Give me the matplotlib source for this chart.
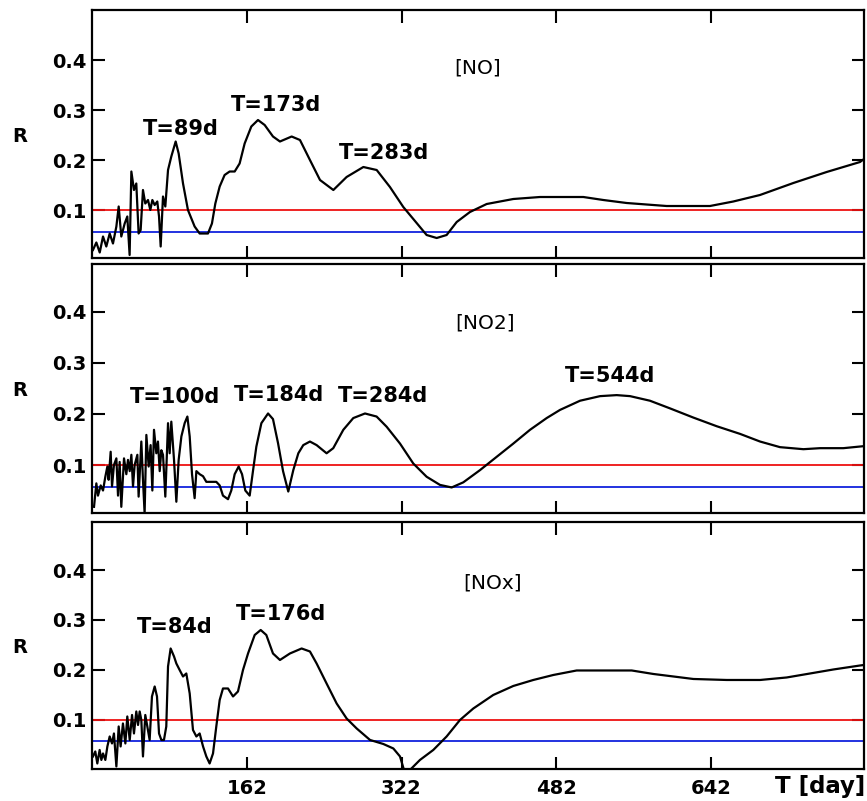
import matplotlib.pyplot as plt

plt.rcParams['font.family'] = 'DejaVu Sans'

# periodogram amplitude R against period T (days)
no_T = [3, 6.5, 10, 13.4, 16.8, 20.3, 23.7, 27.2, 29.6, 32.3, 35.8, 38.5, 40.9, 42.7, 45.4,
        47.8, 50.2, 52.3, 54.7, 57.1, 59.9, 62.3, 64.4, 66.8, 69.5, 71.3, 73, 75.4, 77.8, 80.6,
        84, 88.5, 91.6, 96.1, 101.2, 108.1, 113.3, 121.9, 126, 129.5, 134, 139.1, 144.3, 149.5,
        154.6, 159.8, 166.7, 173.6, 180.5, 189.1, 196.3, 208.4, 217, 227.3, 237.7, 251.5, 265.2,
        282.5, 296.3, 310, 323.8, 337.6, 347.9, 358.3, 368.6, 379, 392.7, 410, 437.5, 465.1,
        485.8, 509.9, 530.6, 554.7, 596, 640.8, 664.9, 692.5, 727, 761.4, 795.9, 800]
no_R = [0.02, 0.035, 0.015, 0.047, 0.027, 0.053, 0.033, 0.067, 0.107, 0.047, 0.073, 0.087, 0.01,
        0.177, 0.14, 0.153, 0.053, 0.06, 0.14, 0.113, 0.12, 0.1, 0.12, 0.11, 0.117, 0.087, 0.027,
        0.127, 0.107, 0.18, 0.207, 0.237, 0.213, 0.153, 0.1, 0.067, 0.053, 0.053, 0.073, 0.113,
        0.147, 0.17, 0.177, 0.177, 0.193, 0.233, 0.267, 0.28, 0.27, 0.247, 0.237, 0.247, 0.24,
        0.2, 0.16, 0.14, 0.166, 0.186, 0.18, 0.146, 0.106, 0.074, 0.05, 0.044, 0.05, 0.076,
        0.096, 0.112, 0.122, 0.126, 0.126, 0.126, 0.12, 0.114, 0.108, 0.108, 0.117, 0.13, 0.154,
        0.176, 0.196, 0.202]

no2_T = [4.1, 6.5, 8.2, 11, 13.4, 15.8, 17.9, 19.2, 21.3, 22.7, 24.7, 27.2, 28.9, 30.6, 32.3,
         35.1, 37.5, 39.2, 41, 42.7, 44.4, 46.1, 48.9, 50.2, 53, 54.7, 56.4, 58.2, 60.6, 62.6,
         64.4, 66.1, 68.5, 70.2, 72, 73.7, 75.4, 77.8, 80.6, 82.3, 84, 86.8, 89.2, 91.6, 94.4,
         97.8, 100.6, 103, 105.4, 108.1, 109.9, 113.3, 116.8, 120.2, 125.4, 130.5, 134, 137.4,
         142.6, 146, 149.5, 153.6, 157.1, 160.5, 165, 168.4, 171.9, 177.1, 184, 189.1, 194.3,
         199.5, 204.9, 210.1, 215.3, 220.4, 227.3, 234.2, 244.5, 251.4, 261.8, 272.1, 284.2,
         296.2, 306.6, 320.4, 334.1, 347.9, 361.7, 373.8, 385.8, 403.1, 420.3, 437.5, 454.8,
         472, 485.8, 506.5, 527.2, 544.4, 558.2, 578.8, 599.5, 623.6, 647.8, 671.9, 692.6,
         713.2, 737.4, 754.6, 778.7, 800]
no2_R = [0.018, 0.064, 0.04, 0.06, 0.05, 0.077, 0.097, 0.071, 0.126, 0.058, 0.1, 0.113, 0.04,
         0.106, 0.018, 0.113, 0.082, 0.11, 0.088, 0.12, 0.058, 0.1, 0.12, 0.038, 0.146, 0.071,
         0.005, 0.159, 0.097, 0.139, 0.05, 0.169, 0.123, 0.146, 0.088, 0.129, 0.12, 0.038,
         0.182, 0.123, 0.185, 0.11, 0.028, 0.11, 0.156, 0.182, 0.195, 0.156, 0.082, 0.035,
         0.088, 0.082, 0.078, 0.067, 0.067, 0.067, 0.06, 0.04, 0.033, 0.05, 0.082, 0.097, 0.082,
         0.05, 0.04, 0.088, 0.136, 0.182, 0.201, 0.19, 0.143, 0.088, 0.048, 0.09, 0.123, 0.139,
         0.146, 0.139, 0.123, 0.133, 0.169, 0.192, 0.201, 0.195, 0.175, 0.142, 0.103, 0.077,
         0.061, 0.056, 0.066, 0.09, 0.116, 0.142, 0.169, 0.192, 0.208, 0.226, 0.235, 0.237,
         0.235, 0.226, 0.211, 0.193, 0.176, 0.161, 0.146, 0.135, 0.131, 0.133, 0.133, 0.137]

nox_T = [3, 5.4, 7.5, 9.9, 11.7, 13.4, 15.8, 17.9, 20.3, 22.7, 24.7, 27.2, 29.6, 31.6, 34, 36.5,
         38.5, 41, 43.4, 45.4, 47.8, 49.6, 51.3, 53, 54.7, 57.1, 59.2, 61.6, 64, 66.8, 69.2,
         71.3, 73.7, 76.4, 78.8, 80.6, 83.3, 86.8, 89.2, 92.6, 96.1, 99.5, 103, 106.4, 109.9,
         113.3, 116.8, 120.2, 123.6, 127.1, 130.5, 134, 137.4, 142.6, 147.8, 152.9, 158.1,
         163.3, 170.2, 176.4, 182.2, 189.1, 196.3, 206.6, 218.7, 227.3, 234.2, 244.5, 254.9,
         265.2, 275.6, 289.4, 303.1, 313.5, 320.4, 324.5, 330.7, 341, 354.8, 368.6, 382.4,
         396.2, 416.8, 437.5, 458.2, 478.9, 503, 534, 559.9, 582.3, 603, 623.6, 658.1, 692.6,
         720.1, 744.3, 768.4, 796, 800]
nox_R = [0.027, 0.037, 0.013, 0.04, 0.02, 0.033, 0.02, 0.047, 0.067, 0.053, 0.073, 0.007, 0.087,
         0.047, 0.093, 0.053, 0.107, 0.06, 0.11, 0.073, 0.117, 0.09, 0.117, 0.1, 0.027, 0.11,
         0.087, 0.06, 0.147, 0.167, 0.147, 0.073, 0.06, 0.06, 0.087, 0.207, 0.243, 0.227, 0.213,
         0.2, 0.187, 0.193, 0.153, 0.08, 0.067, 0.073, 0.047, 0.027, 0.013, 0.033, 0.087, 0.14,
         0.163, 0.163, 0.147, 0.157, 0.2, 0.233, 0.27, 0.28, 0.27, 0.233, 0.22, 0.233, 0.243,
         0.237, 0.213, 0.173, 0.133, 0.103, 0.083, 0.06, 0.052, 0.043, 0.027, 0.0, 0.0, 0.02,
         0.04, 0.067, 0.1, 0.123, 0.15, 0.168, 0.18, 0.19, 0.199, 0.199, 0.199, 0.192, 0.187,
         0.182, 0.18, 0.18, 0.185, 0.193, 0.201, 0.209, 0.21]

species = ['[NO]', '[NO2]', '[NOx]']
peak_labels = [['T=89d', 'T=173d', 'T=283d'],
               ['T=100d', 'T=184d', 'T=284d', 'T=544d'],
               ['T=84d', 'T=176d']]

level_red = 0.1
level_blue = 0.057

x_ticks = [162, 322, 482, 642]
y_ticks = [0.1, 0.2, 0.3, 0.4]

# text positions (T, R) for the peak labels and species names
peak_pos = [[(93.5, 0.263), (192, 0.31), (304, 0.215)],
            [(88, 0.234), (195, 0.237), (303, 0.235), (538, 0.275)],
            [(87.5, 0.285), (197, 0.312)]]
name_pos = [(401, 0.384), (408, 0.378), (416, 0.374)]

fig = plt.figure(figsize=(8.67, 8.01), dpi=100)
boxes = [[0.1061, 0.6779, 0.8904, 0.3096],
         [0.1061, 0.3596, 0.8904, 0.3108],
         [0.1061, 0.0400, 0.8904, 0.3083]]
ylims = [(0.004, 0.5), (0.006, 0.494), (0.002, 0.496)]
series = [(no_T, no_R), (no2_T, no2_R), (nox_T, nox_R)]

for i, (box, (T, R)) in enumerate(zip(boxes, series)):
    ax = fig.add_axes(box)
    ax.plot(T, R, color='black', lw=1.6, zorder=3)
    ax.axhline(level_red, color='#ee1111', lw=1.3, zorder=2)
    ax.axhline(level_blue, color='#1122dd', lw=1.3, zorder=2)

    ax.set_xlim(2, 800)
    ax.set_ylim(*ylims[i])
    ax.set_xticks(x_ticks)
    ax.set_yticks(y_ticks)
    ax.set_yticklabels([f'{v:.1f}' for v in y_ticks])
    ax.tick_params(axis='both', direction='in', length=9, width=1.5,
                   top=True, right=True, labelsize=14, pad=4)
    ax.tick_params(axis='x', pad=7)
    for lab in ax.get_yticklabels() + ax.get_xticklabels():
        lab.set_fontweight('bold')
    if i < 2:
        ax.tick_params(axis='x', labelbottom=False)
    for sp in ax.spines.values():
        sp.set_linewidth(1.6)

    ax.set_ylabel('R', rotation=0, fontsize=14, fontweight='bold', va='center', ha='center')
    ax.yaxis.set_label_coords(-0.093, 0.49)

    for lab, (tx, ty) in zip(peak_labels[i], peak_pos[i]):
        ax.text(tx, ty, lab, fontsize=15, fontweight='bold', ha='center', va='center')
    ax.text(*name_pos[i], species[i], fontsize=14.5, fontweight='medium',
            ha='center', va='center')

fig.text(0.998, 0.0175, 'T [day]', fontsize=16.5, fontweight='bold', ha='right', va='center')

fig.savefig('out.png', dpi=100)
